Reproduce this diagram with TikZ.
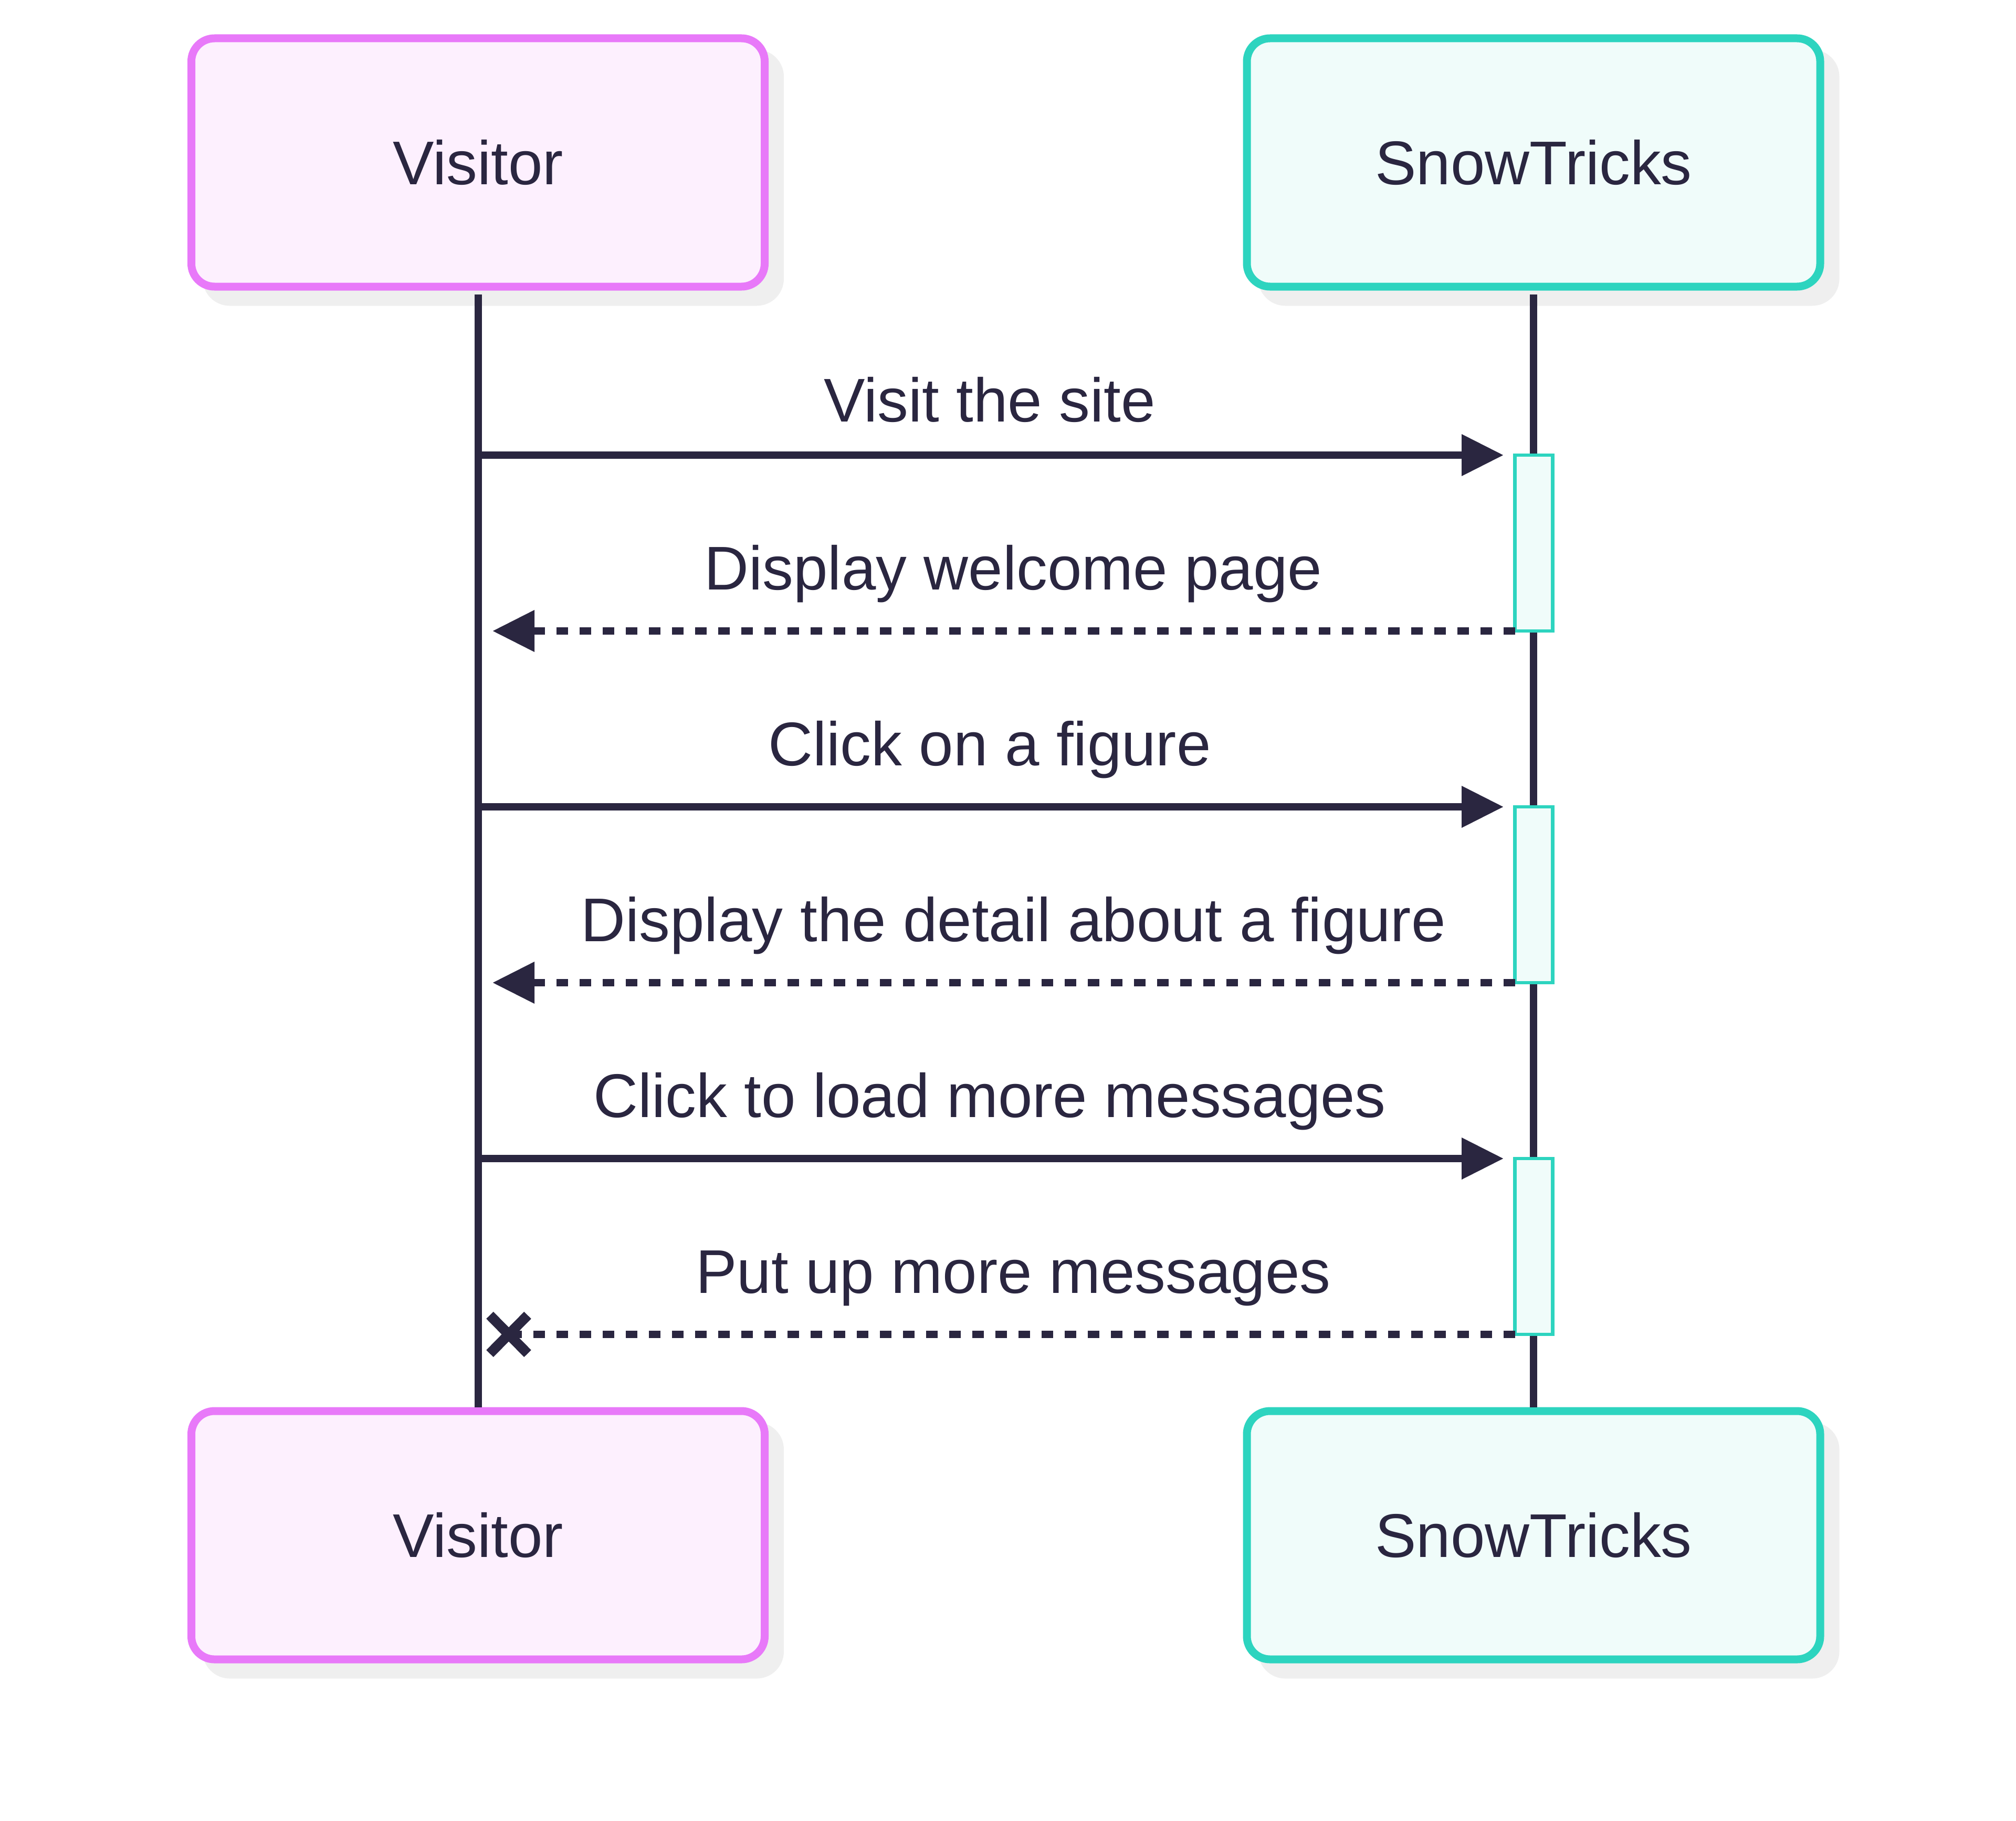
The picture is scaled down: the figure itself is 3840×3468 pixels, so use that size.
\documentclass[tikz,border=0pt]{standalone}
\usepackage{fontspec}
\setmainfont{Liberation Sans}
\usetikzlibrary{arrows.meta,shadows}
\definecolor{ink}{HTML}{2A2640}
\definecolor{pinkline}{HTML}{E879F9}
\definecolor{pinkfill}{HTML}{FDF0FE}
\definecolor{tealline}{HTML}{2DD4BF}
\definecolor{tealfill}{HTML}{F0FCFA}
\definecolor{shadowc}{HTML}{EFEFEF}
\begin{document}
\begin{tikzpicture}[x=0.25pt,y=-0.25pt,
  actor/.style={rounded corners=11pt, minimum width=273pt, minimum height=118.25pt,
    inner sep=0pt, line width=3.75pt, text=ink, font=\fontsize{29.4pt}{35pt}\selectfont,
    general shadow={fill=shadowc, draw=shadowc, line width=3.75pt,
      shadow xshift=7.25pt, shadow yshift=-7.25pt}},
  visitorbox/.style={actor, draw=pinkline, fill=pinkfill},
  snowbox/.style={actor, draw=tealline, fill=tealfill},
  msglabel/.style={anchor=base, inner sep=0pt, text=ink, font=\fontsize{29.4pt}{35pt}\selectfont},
  lifeline/.style={draw=ink, line width=3.5pt},
  actbox/.style={draw=tealline, fill=tealfill, line width=1.7pt, inner sep=0pt, outer sep=0pt,
    minimum width=18pt, minimum height=83.75pt},
  callmsg/.style={draw=ink, line width=3.6pt, -{Triangle[length=20pt,width=19pt]}},
  replymsg/.style={draw=ink, line width=3.6pt, dash pattern=on 5.5pt off 5.5pt,
    -{Triangle[length=20pt,width=19pt]}},
  lostmsg/.style={draw=ink, line width=3.6pt, dash pattern=on 5.5pt off 5.5pt},
  crossmark/.style={draw=ink, line width=4.75pt}
]
\useasboundingbox (0,0) rectangle (3840,3468);

% actors
\node[visitorbox] (v1) at (910.5,309.5) {Visitor};
\node[snowbox] (s1) at (2921,309.5) {SnowTricks};
\node[visitorbox] (v2) at (910.5,2924.5) {Visitor};
\node[snowbox] (s2) at (2921,2924.5) {SnowTricks};

% lifelines
\draw[lifeline, shorten <=1.875pt] (v1.south) -- (v2.north);
\draw[lifeline, shorten <=1.875pt] (s1.south) -- (s2.north);

% activations
\node[actbox] (a1) at (2921.5,1034.5) {};
\node[actbox] (a2) at (2921.5,1704.5) {};
\node[actbox] (a3) at (2921.5,2374.5) {};

% message end points
\coordinate (c1s) at (910.5,867);  \coordinate (c1e) at (2864,867);
\coordinate (r1e) at (938,1202);
\coordinate (c2s) at (910.5,1537); \coordinate (c2e) at (2864,1537);
\coordinate (r2e) at (938,1872);
\coordinate (c3s) at (910.5,2207); \coordinate (c3e) at (2864,2207);
\coordinate (x3) at (969,2542);

% messages
\draw[callmsg] (c1s) -- (c1e);
\draw[replymsg] (a1.south west) -- (r1e);
\draw[callmsg] (c2s) -- (c2e);
\draw[replymsg] (a2.south west) -- (r2e);
\draw[callmsg] (c3s) -- (c3e);
\draw[lostmsg] (a3.south west) -- (x3);
\draw[crossmark] (x3) ++(-36,-36.5) -- ++(72,73);
\draw[crossmark] (x3) ++(-36,36.5) -- ++(72,-73);

% labels
\node[msglabel] (l1) at (1885,803) {Visit the site};
\node[msglabel] (l2) at (1930,1123) {Display welcome page};
\node[msglabel] (l3) at (1885,1458) {Click on a figure};
\node[msglabel] (l4) at (1930,1793) {Display the detail about a figure};
\node[msglabel] (l5) at (1885,2128) {Click to load more messages};
\node[msglabel] (l6) at (1930,2463) {Put up more messages};
\end{tikzpicture}
\end{document}
